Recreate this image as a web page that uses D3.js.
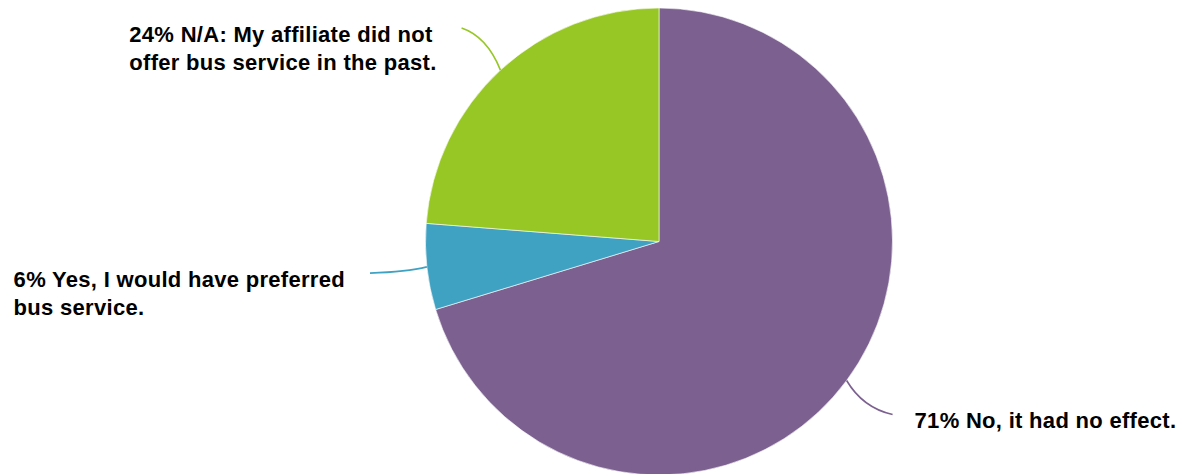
<!DOCTYPE html>
<html>
<head>
<meta charset="utf-8">
<script src="https://cdn.jsdelivr.net/npm/d3@7"></script>
<style>
  html, body { margin: 0; padding: 0; background: #ffffff; }
  svg { display: block; }
</style>
</head>
<body>
<svg id="chart" width="1185" height="474"></svg>
<script>
// Survey responses: did the loss of bus service affect the decision?
const categories = ["No, it had no effect.", "Yes, I would have preferred bus service.", "N/A: My affiliate did not offer bus service in the past."];
const percents = [71, 6, 24];
const labelLines = [
  ["71% No, it had no effect."],
  ["6% Yes, I would have preferred", "bus service."],
  ["24% N/A: My affiliate did not", "offer bus service in the past."]
];
const colors = ["#7c6190", "#3fa2c2", "#96c725"];

const width = 1185, height = 474;
const cx = 659, cy = 241.5, radius = 233.5;

const svg = d3.select("#chart");
const g = svg.append("g").attr("transform", `translate(${cx},${cy})`);

const data = categories.map((c, i) => ({ name: c, value: percents[i], lines: labelLines[i], color: colors[i] }));

const pie = d3.pie().value(d => d.value).sort(null);
const arcs = pie(data);

const arc = d3.arc().innerRadius(0).outerRadius(radius);

g.selectAll("path.slice")
  .data(arcs)
  .join("path")
  .attr("class", "slice")
  .attr("d", arc)
  .attr("fill", d => d.data.color)
  .attr("stroke", "#ffffff")
  .attr("stroke-width", 0.6);

// Point on a circle of radius r at the given angle (clockwise from 12 o'clock)
function polar(a, r) {
  return [Math.sin(a) * r, -Math.cos(a) * r];
}

const leader = g.append("g");
const labels = g.append("g");

arcs.forEach(d => {
  const mid = (d.startAngle + d.endAngle) / 2;
  const p0 = polar(mid, radius);
  const p1 = polar(mid, radius * 1.245);
  const ctrl = [p0[0] + (p1[0] - p0[0]) * 0.35, p0[1] + (p1[1] - p0[1]) * 0.8];
  const path = d3.path();
  path.moveTo(p0[0], p0[1]);
  path.quadraticCurveTo(ctrl[0], ctrl[1], p1[0], p1[1]);
  leader.append("path")
    .attr("d", path.toString())
    .attr("fill", "none")
    .attr("stroke", d.data.color)
    .attr("stroke-width", 1.6);

  const right = p1[0] > 0;
  const tx = p1[0] + (right ? 22 : -25);
  const text = labels.append("text")
    .attr("x", tx)
    .attr("y", p1[1] + 13.5)
    .attr("text-anchor", right ? "start" : "end")
    .attr("font-family", "'Liberation Sans', Arial, sans-serif")
    .attr("font-weight", "bold")
    .attr("font-size", 22)
    .attr("letter-spacing", 0.3)
    .attr("fill", "#000000");
  d.data.lines.forEach((line, i) => {
    text.append("tspan")
      .attr("x", tx)
      .attr("dy", i === 0 ? 0 : 28.5)
      .text(line);
  });
});

// Left-side labels are laid out flush-left as a block
labels.selectAll("text").each(function() {
  const t = d3.select(this);
  if (t.attr("text-anchor") === "end") {
    const spans = t.selectAll("tspan");
    const w = d3.max(spans.nodes(), n => n.getComputedTextLength());
    const right = +t.attr("x");
    t.attr("text-anchor", "start");
    spans.attr("x", right - w);
  }
});
</script>
</body>
</html>
